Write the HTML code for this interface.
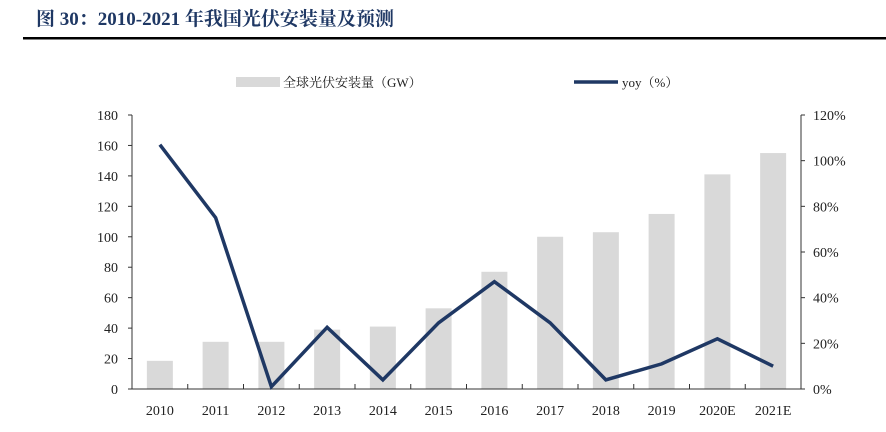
<!DOCTYPE html>
<html><head><meta charset="utf-8"><style>
body{margin:0;background:#fff;width:886px;height:427px;overflow:hidden;font-family:"Liberation Serif","Noto Serif CJK SC",serif}
</style></head><body>
<svg width="886" height="427" font-family="Liberation Serif, Noto Serif CJK SC, serif">
<text x="36" y="25" font-size="19" font-weight="bold" fill="#1f3864">图 30：2010-2021 年我国光伏安装量及预测</text>
<rect x="23" y="37" width="863" height="2.5" fill="#000"/>
<rect x="236" y="77" width="44" height="10" fill="#d9d9d9"/>
<text x="283" y="87" font-size="13" fill="#222">全球光伏安装量（GW）</text>
<line x1="574" y1="82" x2="618" y2="82" stroke="#1f3864" stroke-width="3.5"/>
<text x="622" y="87" font-size="13" fill="#222">yoy（%）</text>
<g id="plot"></g>
</svg>
<script>
const categories=["2010","2011","2012","2013","2014","2015","2016","2017","2018","2019","2020E","2021E"];
const capacity=[18.5,31,31,39,41,53,77,100,103,115,141,155];
const yoy=[107,75,1,27,4,29,47,29,4,11,22,10];
const leftTicks=[0,20,40,60,80,100,120,140,160,180];
const rightTicks=[0,20,40,60,80,100,120];
const NS="http://www.w3.org/2000/svg";
const g=document.getElementById('plot');
const x0=132,x1=801,y0=389,yTop=115;
const band=(x1-x0)/categories.length;
const xc=i=>x0+band*(i+0.5);
const yL=v=>y0-(v/180)*(y0-yTop);
const yR=v=>y0-(v/120)*(y0-yTop);
function mk(t,a){const e=document.createElementNS(NS,t);for(const k in a)e.setAttribute(k,a[k]);g.appendChild(e);return e;}
capacity.forEach((v,i)=>{
 const r=mk('rect',{x:xc(i)-13,y:yL(v),width:26,height:y0-yL(v),fill:'#d9d9d9'});
 
 
});
let ax=mk('path',{d:`M${x0},${yTop}V${y0}H${x1}V${yTop}`,stroke:'#333',fill:'none','stroke-width':1});


leftTicks.forEach(v=>{
 mk('line',{x1:x0-4,x2:x0,y1:yL(v),y2:yL(v),stroke:'#333'});
 const t=mk('text',{x:x0-14,y:yL(v)+5,'text-anchor':'end','font-size':14,fill:'#222'});t.textContent=v;
 
 
});
rightTicks.forEach(v=>{
 mk('line',{x1:x1,x2:x1+4,y1:yR(v),y2:yR(v),stroke:'#333'});
 const t=mk('text',{x:x1+12,y:yR(v)+5,'font-size':14,fill:'#222'});t.textContent=v+'%';
 
 
});
categories.forEach((c,i)=>{
 if(i>0)mk('line',{x1:x0+band*i,x2:x0+band*i,y1:y0,y2:y0-5,stroke:'#333'});
 const t=mk('text',{x:xc(i),y:y0+26,'text-anchor':'middle','font-size':14,fill:'#222'});t.textContent=c;
 
 
});
const ln=mk('polyline',{points:yoy.map((v,i)=>xc(i)+','+yR(v)).join(' '),fill:'none',stroke:'#1f3864','stroke-width':3.5,'stroke-linejoin':'miter'});


</script>
</body></html>
